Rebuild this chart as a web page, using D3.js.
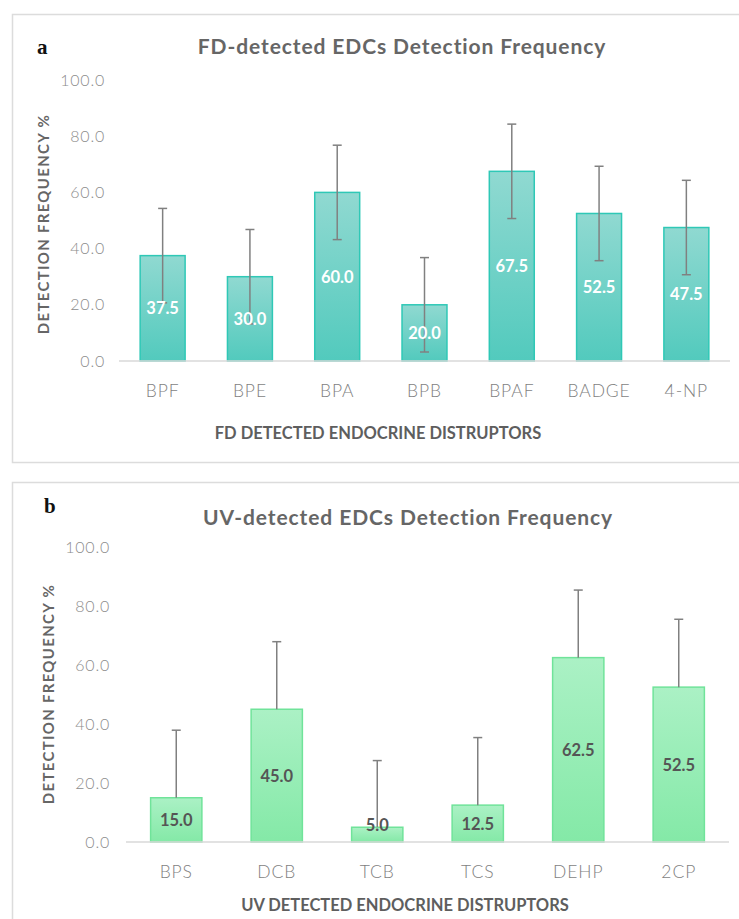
<!DOCTYPE html>
<html>
<head>
<meta charset="utf-8">
<script src="https://cdn.jsdelivr.net/npm/d3@7"></script>
<style>
  body { margin: 0; background: #fff; }
  svg { display: block; }
  .tick text { font-family: Lato, "Open Sans", sans-serif; }
</style>
</head>
<body>
<div id="grafico"></div>
<script>
// Datos del panel a (FD)
const categoriasA = ["BPF", "BPE", "BPA", "BPB", "BPAF", "BADGE", "4-NP"]
const valoresA = [37.5, 30.0, 60.0, 20.0, 67.5, 52.5, 47.5]
const erroresA = [16.8, 16.8, 16.8, 16.8, 16.8, 16.8, 16.8]

// Datos del panel b (UV)
const categoriasB = ["BPS", "DCB", "TCB", "TCS", "DEHP", "2CP"]
const valoresB = [15.0, 45.0, 5.0, 12.5, 62.5, 52.5]
const erroresB = [22.9, 22.9, 22.6, 22.9, 22.9, 23.0]

const ticksY = [0, 20, 40, 60, 80, 100]

const svg = d3.select("#grafico")
  .append("svg")
  .attr("width", 739)
  .attr("height", 919)

const defs = svg.append("defs")
const grad = (id, top, bottom) => {
  const lg = defs.append("linearGradient").attr("id", id)
    .attr("x1", 0).attr("y1", 0).attr("x2", 0).attr("y2", 1)
  lg.append("stop").attr("offset", "0%").attr("stop-color", top)
  lg.append("stop").attr("offset", "100%").attr("stop-color", bottom)
}
grad("gradA", "#90d9d1", "#52cabd")
grad("gradB", "#abf1c5", "#84e9a7")

// Funcion para dibujar un panel
const panel = (cfg) => {
  // marco
  svg.append("rect")
    .attr("x", 12.5).attr("y", cfg.boxTop + 0.5)
    .attr("width", 740).attr("height", cfg.boxH)
    .attr("fill", "none").attr("stroke", "#dcdcdc").attr("stroke-width", 1.5)

  // letra del panel
  svg.append("text")
    .attr("x", cfg.letraX).attr("y", cfg.letraY)
    .attr("font-family", "'Liberation Serif', 'Times New Roman', serif")
    .attr("font-weight", "bold").attr("font-size", 21)
    .attr("fill", "#111")
    .text(cfg.letra)

  // titulo
  svg.append("text")
    .attr("x", cfg.tituloX).attr("y", cfg.tituloY)
    .attr("text-anchor", "middle")
    .attr("font-family", "Lato, sans-serif")
    .attr("font-weight", "bold").attr("font-size", 21)
    .attr("letter-spacing", 0.9)
    .attr("fill", "#666")
    .text(cfg.titulo)

  const x = d3.scaleBand().domain(cfg.cats).range(cfg.xRange)
    .paddingInner(cfg.pad).paddingOuter(cfg.pad / 2)
  const y = d3.scaleLinear().domain([0, 100]).range(cfg.yRange)

  const g = svg.append("g")

  // eje Y (solo etiquetas)
  const yAxis = g.append("g")
    .attr("transform", `translate(${cfg.yLabelX}, 0)`)
    .call(d3.axisLeft(y).tickValues(ticksY).tickFormat(d3.format(".1f")).tickSize(0).tickPadding(0))
  yAxis.select(".domain").remove()
  yAxis.selectAll("text")
    .attr("font-size", 16).attr("font-weight", 300)
    .attr("letter-spacing", 0.8)
    .attr("fill", "#8c8c8c")

  // barras
  g.selectAll(".barra").data(cfg.vals).join("rect")
    .attr("class", "barra")
    .attr("x", (d, i) => x(cfg.cats[i]))
    .attr("y", (d) => y(d))
    .attr("width", x.bandwidth())
    .attr("height", (d) => y(0) - y(d))
    .attr("fill", cfg.fill)
    .attr("stroke", cfg.stroke).attr("stroke-width", 1.5)

  // linea base
  g.append("line")
    .attr("x1", cfg.xRange[0]).attr("x2", cfg.xRange[1])
    .attr("y1", y(0)).attr("y2", y(0))
    .attr("stroke", "#d9d9d9").attr("stroke-width", 1.5)

  // eje X (etiquetas)
  const xAxis = g.append("g")
    .attr("transform", `translate(0, ${y(0)})`)
    .call(d3.axisBottom(x).tickSize(0).tickPadding(cfg.xPad))
  xAxis.select(".domain").remove()
  xAxis.selectAll("text")
    .attr("font-size", 17.5).attr("font-weight", 300)
    .attr("letter-spacing", 0.9)
    .attr("fill", "#7f7f7f")

  // barras de error
  const cx = (i) => x(cfg.cats[i]) + x.bandwidth() / 2
  const err = g.append("g").attr("stroke", "#808080").attr("stroke-width", 1.5)
  cfg.vals.forEach((v, i) => {
    const top = y(v + cfg.errs[i])
    const bot = cfg.ambos ? y(v - cfg.errs[i]) : y(v)
    err.append("line").attr("x1", cx(i)).attr("x2", cx(i)).attr("y1", top).attr("y2", bot)
    err.append("line").attr("x1", cx(i) - 4.5).attr("x2", cx(i) + 4.5).attr("y1", top).attr("y2", top)
    if (cfg.ambos) {
      err.append("line").attr("x1", cx(i) - 4.5).attr("x2", cx(i) + 4.5).attr("y1", bot).attr("y2", bot)
    }
  })

  // etiquetas de valores
  g.selectAll(".etiqueta").data(cfg.vals).join("text")
    .attr("class", "etiqueta")
    .attr("x", (d, i) => cx(i))
    .attr("y", (d) => Math.min((y(0) + y(d)) / 2, y(0) - 17))
    .attr("dy", "0.36em")
    .attr("text-anchor", "middle")
    .attr("font-family", "Lato, sans-serif")
    .attr("font-weight", "bold").attr("font-size", 16.5)
    .attr("fill", cfg.labelColor)
    .text((d) => d3.format(".1f")(d))

  // titulo eje X
  svg.append("text")
    .attr("x", cfg.xTitX).attr("y", cfg.xTitY)
    .attr("text-anchor", "middle")
    .attr("font-family", "Lato, sans-serif")
    .attr("font-weight", "bold").attr("font-size", 16.5)
    .attr("fill", "#5e5e5e")
    .text(cfg.xTitulo)

  // titulo eje Y
  svg.append("text")
    .attr("transform", `translate(${cfg.yTitX}, ${cfg.yTitY}) rotate(-90)`)
    .attr("text-anchor", "middle")
    .attr("font-family", "Lato, sans-serif")
    .attr("font-weight", "bold").attr("font-size", 15)
    .attr("letter-spacing", 1.3)
    .attr("fill", "#666")
    .text("DETECTION FREQUENCY %")
}

panel({
  boxTop: 14, boxH: 448, letra: "a", letraX: 37, letraY: 54,
  titulo: "FD-detected EDCs Detection Frequency", tituloX: 402, tituloY: 54,
  cats: categoriasA, vals: valoresA, errs: erroresA, ambos: true,
  xRange: [119, 730], yRange: [361, 80], pad: 0.485, yLabelX: 105, xPad: 24,
  fill: "url(#gradA)", stroke: "#2fc8b6", labelColor: "#ffffff",
  xTitulo: "FD DETECTED ENDOCRINE DISTRUPTORS", xTitX: 378, xTitY: 439,
  yTitX: 49, yTitY: 224
})

panel({
  boxTop: 482, boxH: 460, letra: "b", letraX: 44, letraY: 513,
  titulo: "UV-detected EDCs Detection Frequency", tituloX: 408, tituloY: 525,
  cats: categoriasB, vals: valoresB, errs: erroresB, ambos: false,
  xRange: [126, 729], yRange: [842, 547], pad: 0.49, yLabelX: 110, xPad: 24,
  fill: "url(#gradB)", stroke: "#70e39a", labelColor: "#555555",
  xTitulo: "UV DETECTED ENDOCRINE DISTRUPTORS", xTitX: 405, xTitY: 911,
  yTitX: 54, yTitY: 694
})
</script>
</body>
</html>
